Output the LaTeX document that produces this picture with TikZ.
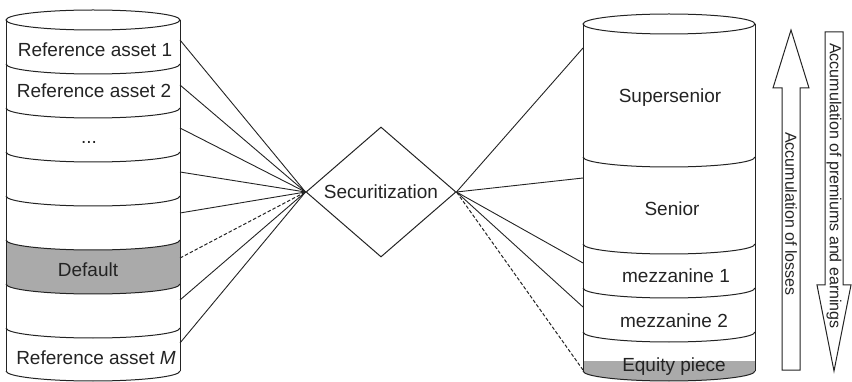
\documentclass[tikz,border=0pt]{standalone}
\usepackage{fontspec}
\setmainfont{Liberation Sans}
\usetikzlibrary{shapes.geometric}
\definecolor{tranche}{RGB}{170,170,170}
\definecolor{ink}{RGB}{35,35,35}
\begin{document}
\begin{tikzpicture}[x=1pt,y=-1pt,
  line width=1pt, draw=ink, text=ink,
  bandtext/.style={font=\fontsize{19}{22}\selectfont, inner sep=0pt, anchor=base},
  sidetext/.style={font=\fontsize{16}{18}\selectfont, inner sep=0pt, rotate=-90},
  link/.style={line width=0.9pt},
  dashlink/.style={line width=1pt, dash pattern=on 3.5pt off 2pt},
  lowarc/.style={x radius=87pt, y radius=10pt},
  lowarcr/.style={x radius=86pt, y radius=10pt},
]
\useasboundingbox (0,0) rectangle (852,382);

% ---- pool of reference assets (left cylinder) ----
\fill[tranche] (6,240) arc[start angle=180,end angle=360,lowarc] -- (180,284)
  arc[start angle=360,end angle=180,lowarc] -- cycle;
\draw (6,20) -- (6,371) (180,20) -- (180,371);
\draw (93,20) ellipse[x radius=87pt, y radius=10pt];
\foreach \y in {64,108,152,196,240,284,328,371}
  \draw (6,\y) arc[start angle=180,end angle=360,lowarc];

\node[bandtext] (a1) at (95,57) {Reference asset 1};
\node[bandtext] (a2) at (94,98) {Reference asset 2};
\node[bandtext] (dots) at (89,144) {...};
\node[bandtext] (def) at (88,277) {Default};
\node[bandtext] (aM) at (96,364) {Reference asset \textit{M}};

% ---- tranches (right cylinder) ----
\fill[tranche] (583,361) -- (755,361) -- (755,371)
  arc[start angle=360,end angle=180,lowarcr] -- cycle;
\draw (583,24) -- (583,371) (755,24) -- (755,371);
\draw (669,24) ellipse[x radius=86pt, y radius=10pt];
\foreach \y in {157,244,288,332,371}
  \draw (583,\y) arc[start angle=180,end angle=360,lowarcr];

\node[bandtext] (t1) at (670,103) {Supersenior};
\node[bandtext] (t2) at (672,216) {Senior};
\node[bandtext] (t3) at (676,283) {mezzanine 1};
\node[bandtext] (t4) at (674,327) {mezzanine 2};
\node[bandtext] (t5) at (674,371) {Equity piece};

% ---- securitization vehicle ----
\node[diamond, draw, aspect=1.15, inner sep=0pt, minimum width=150pt,
  minimum height=130pt, font=\fontsize{19}{22}\selectfont] (sec) at (381,192) {Securitization};

% ---- connectors ----
\foreach \i/\y in {1/40,2/85,3/128,4/172,5/213,6/258,7/300,8/343}
  \coordinate (l\i) at (180,\y);
\foreach \i/\y in {1/48,2/178,3/263,4/307,5/370}
  \coordinate (r\i) at (583,\y);

\foreach \i in {1,2,3,4,5,7,8} \draw[link] (l\i) -- (sec.west);
\draw[dashlink] (l6) -- (sec.west);
\foreach \i in {1,2,3,4} \draw[link] (r\i) -- (sec.east);
\draw[dashlink] (r5) -- (sec.east);

% ---- hollow arrows ----
\draw (791,30) -- (809,88) -- (800,88) -- (800,370) -- (782,370) -- (782,88)
  -- (773,88) -- cycle;
\draw (825,32) -- (843,32) -- (843,285) -- (851,285) -- (834,371) -- (817,285)
  -- (825,285) -- cycle;
\node[sidetext] (loss) at (791,214) {Accumulation of losses};
\node[sidetext] (prem) at (834,186) {Accumulation of premiums and earnings};
\end{tikzpicture}
\end{document}
